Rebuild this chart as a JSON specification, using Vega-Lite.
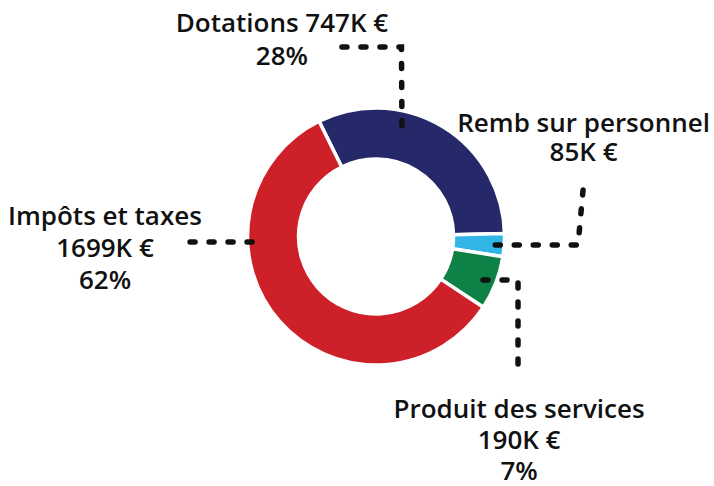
{
  "$schema": "https://vega.github.io/schema/vega-lite/v6.json",
  "width": 714,
  "height": 486,
  "padding": 0,
  "autosize": {"type": "none"},
  "background": "white",
  "config": {"view": {"stroke": null}},
  "datasets": {
    "slices": [
      {"name": "Dotations", "amount": 747, "deg": 115.0, "ord": 1},
      {"name": "Remb sur personnel", "amount": 85, "deg": 10.4, "ord": 2},
      {"name": "Produit des services", "amount": 190, "deg": 24.3, "ord": 3},
      {"name": "Impôts et taxes", "amount": 1699, "deg": 210.3, "ord": 4}
    ],
    "leaders": [
      {"g": "Dotations", "i": 1, "x": -26.5, "y": 147.5},
      {"g": "Dotations", "i": 2, "x": 19.8, "y": 147.5},
      {"g": "Dotations", "i": 3, "x": 20.2, "y": 82.9},
      {"g": "Remb", "i": 1, "x": 161.1, "y": 36.2},
      {"g": "Remb", "i": 2, "x": 157.2, "y": -6.6},
      {"g": "Remb", "i": 3, "x": 88.7, "y": -6.6},
      {"g": "Produit", "i": 1, "x": 83.3, "y": -33.9},
      {"g": "Produit", "i": 2, "x": 110.5, "y": -33.9},
      {"g": "Produit", "i": 3, "x": 110.5, "y": -106.2},
      {"g": "Impots", "i": 1, "x": -144.7, "y": -4.3},
      {"g": "Impots", "i": 2, "x": -91.8, "y": -4.3}
    ],
    "labels": [
      {"t": "Dotations 747K €", "x": -73.2, "y": 159.1},
      {"t": "28%", "x": -73.2, "y": 133.4},
      {"t": "Remb sur personnel", "x": 161.5, "y": 80.9},
      {"t": "85K €", "x": 161.5, "y": 58.4},
      {"t": "Impôts et taxes", "x": -210.9, "y": 8.9},
      {"t": "1699K €", "x": -210.9, "y": -16.0},
      {"t": "62%", "x": -210.9, "y": -40.9},
      {"t": "Produit des services", "x": 111.3, "y": -141.0},
      {"t": "190K €", "x": 111.3, "y": -165.4},
      {"t": "7%", "x": 111.3, "y": -189.5}
    ]
  },
  "layer": [
    {
      "data": {"name": "slices"},
      "mark": {"type": "arc", "outerRadius": 128.5, "innerRadius": 77.5, "stroke": "white", "strokeWidth": 3.5},
      "encoding": {
        "x": {"datum": 0, "type": "quantitative", "scale": {"domain": [-292.6, 263.0]}, "axis": null},
        "y": {"datum": 0, "type": "quantitative", "scale": {"domain": [-194.2, 184.0]}, "axis": null},
        "theta": {"field": "deg", "type": "quantitative", "stack": true, "scale": {"range": [-0.459, 5.824]}},
        "order": {"field": "ord", "type": "quantitative", "sort": "ascending"},
        "color": {
          "field": "name", "type": "nominal", "legend": null,
          "scale": {
            "domain": ["Dotations", "Remb sur personnel", "Produit des services", "Impôts et taxes"],
            "range": ["#262969", "#31B4E6", "#0E8246", "#CE2028"]
          }
        }
      }
    },
    {
      "data": {"name": "leaders"},
      "mark": {"type": "line", "color": "#111111", "strokeWidth": 5.5, "strokeCap": "round", "strokeDash": [5, 14]},
      "encoding": {
        "x": {"field": "x", "type": "quantitative", "scale": {"domain": [-292.6, 263.0]}, "axis": null},
        "y": {"field": "y", "type": "quantitative", "scale": {"domain": [-194.2, 184.0]}, "axis": null},
        "detail": {"field": "g", "type": "nominal"},
        "order": {"field": "i", "type": "quantitative"}
      }
    },
    {
      "data": {"name": "labels"},
      "mark": {"type": "text", "font": "Open Sans", "fontWeight": 600, "fontSize": 26, "color": "#111111", "align": "center", "baseline": "alphabetic"},
      "encoding": {
        "x": {"field": "x", "type": "quantitative", "scale": {"domain": [-292.6, 263.0]}, "axis": null},
        "y": {"field": "y", "type": "quantitative", "scale": {"domain": [-194.2, 184.0]}, "axis": null},
        "text": {"field": "t", "type": "nominal"}
      }
    }
  ]
}
